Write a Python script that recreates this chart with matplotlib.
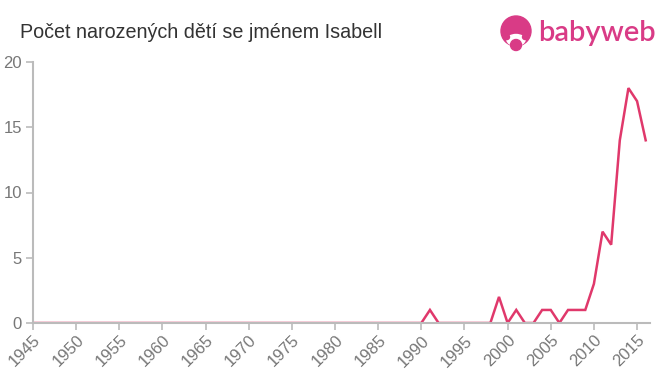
import matplotlib
matplotlib.use("Agg")
import matplotlib.pyplot as plt
from matplotlib.patches import Circle, Ellipse

years = list(range(1945, 2017))
counts_by_year = {1991: 1, 1999: 2, 2001: 1, 2004: 1, 2005: 1, 2007: 1, 2008: 1,
                  2009: 1, 2010: 3, 2011: 7, 2012: 6, 2013: 14, 2014: 18,
                  2015: 17, 2016: 14}
counts = [counts_by_year.get(y, 0) for y in years]
xticks = list(range(1945, 2016, 5))
yticks = [0, 5, 10, 15, 20]
title = "Počet narozených dětí se jménem Isabell"

plt.rcParams["font.family"] = ["Liberation Sans", "DejaVu Sans"]

fig = plt.figure(figsize=(6.6, 3.75), dpi=100)
ax = fig.add_axes([33/660, 52/375, (650-33)/660, (323-62)/375])
ax.plot(years, counts, color="#e0386b", linewidth=1.8, solid_joinstyle="miter")
ax.set_xlim(1945, 2016.5)
ax.set_ylim(0, 20)
ax.set_xticks(xticks)
ax.set_xticklabels([str(x) for x in xticks], rotation=45, ha="right", va="top",
                   rotation_mode="anchor", fontsize=12, color="#777777")
ax.set_yticks(yticks)
ax.set_yticklabels([str(v) for v in yticks], fontsize=12, color="#777777")
for s in ["top", "right"]:
    ax.spines[s].set_visible(False)
for s in ["left", "bottom"]:
    ax.spines[s].set_color("#bbbbbb")
    ax.spines[s].set_linewidth(1.5)
ax.tick_params(axis="both", colors="#bbbbbb", labelcolor="#777777", length=5, width=1.2)
ax.tick_params(axis="x", pad=2)
ax.tick_params(axis="y", pad=3)

fig.text(20/660, 1 - 32/375, title, fontsize=14.2, color="#333333", va="center", ha="left")

# logo
lax = fig.add_axes([0, 0, 1, 1], facecolor="none")
lax.set_xlim(0, 660)
lax.set_ylim(375, 0)
lax.axis("off")
pink = "#d93b86"
lax.add_patch(Circle((516, 31), 15, color=pink))
lax.add_patch(Ellipse((516, 40), 18, 11, color="white"))
lax.add_patch(Circle((516, 45), 5.5, color=pink))
lax.add_patch(Circle((507, 37), 2.5, color=pink))
lax.add_patch(Circle((525, 37), 2.5, color=pink))
lax.text(538, 33, "babyweb", fontsize=21, color=pink, va="center", ha="left",
         family=["Lato", "DejaVu Sans"], weight="semibold")

fig.savefig("out.png", dpi=100)
